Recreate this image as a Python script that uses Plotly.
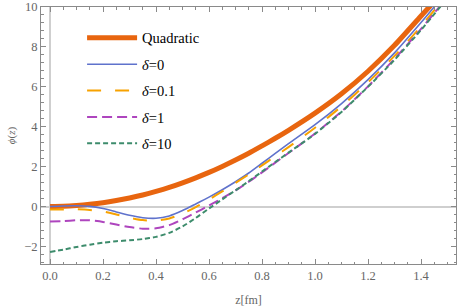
import plotly.graph_objects as go

z = [0.0, 0.05, 0.1, 0.15, 0.2, 0.25, 0.3, 0.35, 0.4, 0.45, 0.5, 0.55, 0.6, 0.65,
     0.7, 0.75, 0.8, 0.85, 0.9, 1.0, 1.1, 1.2, 1.3, 1.4, 1.5]

quadratic = [0.0, 0.01, 0.05, 0.11, 0.19, 0.3, 0.43, 0.58, 0.76, 0.96, 1.19, 1.44, 1.71, 2.01,
             2.33, 2.67, 3.04, 3.42, 3.82, 4.68, 5.65, 6.78, 8.08, 9.55, 11.0]
delta0 = [0.0, 0.03, 0.04, 0.01, -0.1, -0.27, -0.44, -0.56, -0.59, -0.47, -0.2, 0.13, 0.47, 0.84,
          1.24, 1.68, 2.17, 2.66, 3.15, 4.1, 5.16, 6.36, 7.7, 9.22, 10.8]
delta01 = [-0.15, -0.15, -0.14, -0.17, -0.25, -0.4, -0.56, -0.68, -0.71, -0.6, -0.36, -0.03, 0.35, 0.76,
           1.18, 1.61, 2.06, 2.52, 2.98, 3.95, 5.02, 6.22, 7.55, 9.03, 10.65]
delta1 = [-0.75, -0.73, -0.69, -0.69, -0.77, -0.9, -1.03, -1.11, -1.09, -0.93, -0.64, -0.3, 0.05, 0.42,
          0.81, 1.24, 1.71, 2.2, 2.68, 3.66, 4.76, 6.02, 7.4, 8.9, 10.5]
delta10 = [-2.28, -2.16, -2.03, -1.91, -1.81, -1.74, -1.69, -1.63, -1.52, -1.32, -1.0, -0.57, -0.1, 0.36,
           0.81, 1.27, 1.75, 2.23, 2.7, 3.64, 4.74, 6.0, 7.35, 8.85, 10.45]

names = ["Quadratic", "<i>δ</i>=0", "<i>δ</i>=0.1", "<i>δ</i>=1", "<i>δ</i>=10"]
series = [quadratic, delta0, delta01, delta1, delta10]
colors = ["#E8650F", "#5F72CC", "#F7A200", "#AE45BE", "#3D8C6C"]
widths = [5, 1.6, 2, 2, 2]
dashes = ["solid", "solid", "14px,14px", "10px,5px", "5px,3px"]

fig = go.Figure()
for name, ys, c, w, d in zip(names, series, colors, widths, dashes):
    fig.add_trace(go.Scatter(x=z, y=ys, mode="lines", name=name, legendgroup=name,
                             line=dict(color=c, width=w, dash=d, shape="spline", smoothing=0.6)))

axis_common = dict(
    showline=True, linecolor="#8a8a8a", linewidth=1, mirror="ticks",
    ticks="inside", ticklen=5, tickcolor="#8a8a8a", tickwidth=1,
    showgrid=False, zeroline=True, zerolinecolor="#cfcfcf", zerolinewidth=1.5,
    automargin=False,
    tickfont=dict(family="Liberation Serif", size=12.5, color="#666666"),
)

fig.update_xaxes(range=[-0.034, 1.532], tick0=0, dtick=0.2, tickformat=".1f",
                 minor=dict(ticks="inside", ticklen=2.5, tickcolor="#8a8a8a", dtick=0.05, tick0=0),
                 title=dict(text="z[fm]", font=dict(family="Liberation Serif", size=12, color="#666666"), standoff=13),
                 **axis_common)
fig.update_yaxes(range=[-2.88, 10.0], tick0=0, dtick=2,
                 minor=dict(ticks="inside", ticklen=2.5, tickcolor="#8a8a8a", dtick=0.4, tick0=0),
                 title=dict(text="<i>ϕ</i>(<i>z</i>)", font=dict(family="Liberation Serif", size=11, color="#666666"), standoff=6),
                 **axis_common)

fig.update_layout(
    width=457, height=307,
    margin=dict(l=41, r=1, t=7, b=43),
    plot_bgcolor="white", paper_bgcolor="white",
    showlegend=True,
    legend=dict(x=0.099, y=0.942, xanchor="left", yanchor="top", bgcolor="rgba(0,0,0,0)",
                font=dict(family="Liberation Serif", size=14.5, color="black"),
                itemwidth=50, tracegroupgap=4.5),
)

fig.write_html("out.html", config={"displayModeBar": False},
               post_script="document.body.style.margin='0';document.body.style.overflow='hidden';")
